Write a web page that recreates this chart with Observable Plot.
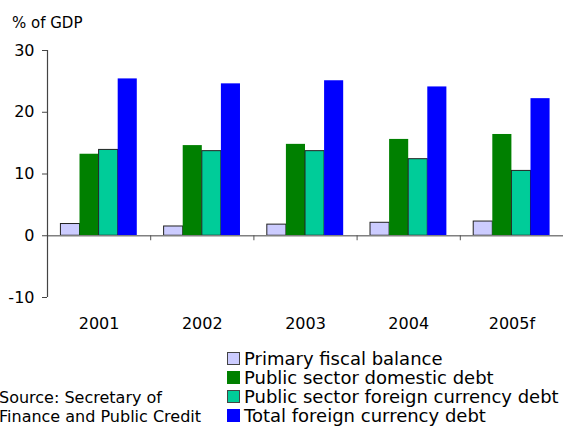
<!DOCTYPE html>
<html><head><meta charset="utf-8">
<script src="https://cdn.jsdelivr.net/npm/d3@7"></script>
<script src="https://cdn.jsdelivr.net/npm/@observablehq/plot@0.6"></script>
<style>
html,body{margin:0;padding:0;background:#fff;}
body{width:563px;height:427px;overflow:hidden;font-family:"DejaVu Sans",Verdana,sans-serif;color:#000;}
#title{box-sizing:border-box;height:34px;padding:15.5px 0 0 12px;font-size:15px;line-height:15px;}
#chart{height:306px;}
#chart svg{display:block;}
#foot{position:relative;height:87px;}
#source{position:absolute;left:-1px;top:48px;font-size:16px;line-height:19px;white-space:nowrap;}
#legend{position:absolute;left:227px;top:9px;font-size:18px;line-height:19px;white-space:nowrap;}
.row{height:19px;}
.sw{display:inline-block;box-sizing:border-box;width:13px;height:13px;margin-right:4px;vertical-align:baseline;}
</style></head><body>
<div id="title">% of GDP</div>
<div id="chart"></div>
<div id="foot"><div id="source">Source: Secretary of<br>Finance and Public Credit</div><div id="legend"></div></div>
<script>
const years = ["2001", "2002", "2003", "2004", "2005f"];
const seriesNames = ["Primary fiscal balance", "Public sector domestic debt", "Public sector foreign currency debt", "Total foreign currency debt"];
const primaryFiscalBalance = [1.9, 1.5, 1.8, 2.1, 2.3];
const publicDomesticDebt = [13.2, 14.6, 14.8, 15.6, 16.4];
const publicForeignCurrencyDebt = [13.9, 13.7, 13.7, 12.4, 10.5];
const totalForeignCurrencyDebt = [25.4, 24.6, 25.1, 24.1, 22.2];
const yTicks = [-10, 0, 10, 20, 30];
const seriesColors = ["#ccccff", "#008000", "#00cc99", "#0000ff"];
const seriesStrokes = ["#222222", "none", "#222222", "none"];

const seriesValues = [primaryFiscalBalance, publicDomesticDebt, publicForeignCurrencyDebt, totalForeignCurrencyDebt];
const rows = [];
years.forEach((year, i) => seriesNames.forEach((s, k) => rows.push({year, yi: i, k, series: s, value: seriesValues[k][i]})));

// layout of bars inside each year band (fractions of the band)
const groupOffset = 0.13, barFrac = 0.185;

const barMarks = seriesNames.map((s, k) => Plot.rectY(rows.filter(d => d.k === k), {
  x1: d => d.yi + groupOffset + d.k * barFrac,
  x2: d => d.yi + groupOffset + (d.k + 1) * barFrac,
  y1: 0,
  y2: "value",
  fill: seriesColors[k],
  stroke: seriesStrokes[k],
  strokeWidth: 1
}));

const chart = Plot.plot({
  width: 563,
  height: 306,
  marginTop: 16,
  marginBottom: 43,
  marginLeft: 47,
  marginRight: 0,
  style: {fontFamily: "DejaVu Sans, Verdana, sans-serif", fontSize: "16px", color: "#000", background: "#fff", overflow: "visible"},
  x: {type: "linear", domain: [0, years.length], axis: null},
  y: {domain: [-10, 30]},
  marks: [
    ...barMarks,
    Plot.ruleY([0], {stroke: "#808080", strokeWidth: 1.5}),
    Plot.ruleX(d3.range(1, years.length), {y1: 0, y2: 0, insetBottom: -5, stroke: "#555", strokeWidth: 1}),
    Plot.ruleX([0], {y1: -10, y2: 30, stroke: "#444", strokeWidth: 1.2}),
    Plot.axisY({ticks: yTicks, tickSize: 5, tickPadding: 8, tickFormat: d => String(d), label: null, stroke: "#444", fontSize: 16, fill: "#000"}),
    Plot.text(years, {x: (d, i) => i + 0.5, text: d => d, frameAnchor: "bottom", lineAnchor: "top", dy: 20, fontSize: 16, fill: "#000"})
  ]
});
document.getElementById("chart").appendChild(chart);

const legend = document.getElementById("legend");
seriesNames.forEach((s, k) => {
  const row = document.createElement("div");
  row.className = "row";
  const sw = document.createElement("span");
  sw.className = "sw";
  sw.style.background = seriesColors[k];
  sw.style.border = "1px solid " + (seriesStrokes[k] === "none" ? seriesColors[k] : "#444");
  row.appendChild(sw);
  row.appendChild(document.createTextNode(s));
  legend.appendChild(row);
});
</script>
</body></html>
